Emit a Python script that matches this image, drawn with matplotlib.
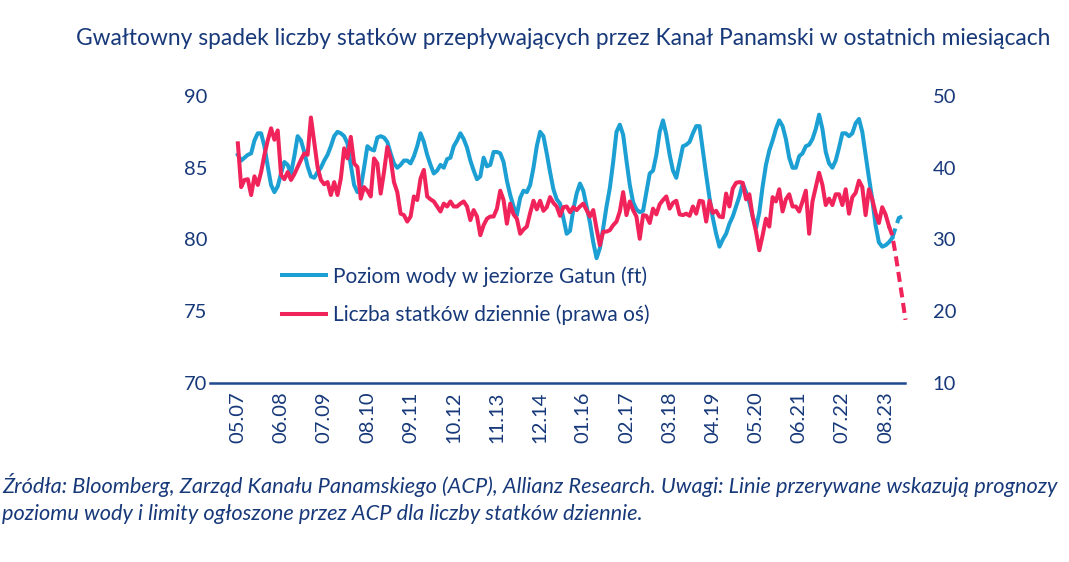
import numpy as np
import matplotlib
matplotlib.use("Agg")
import matplotlib.pyplot as plt

plt.rcParams["font.family"] = ["Lato", "DejaVu Sans"]

TITLE = "Gwałtowny spadek liczby statków przepływających przez Kanał Panamski w ostatnich miesiącach"
NOTE = ("Źródła: Bloomberg, Zarząd Kanału Panamskiego (ACP), Allianz Research. Uwagi: Linie przerywane wskazują prognozy\n"
        "poziomu wody i limity ogłoszone przez ACP dla liczby statków dziennie.")

# x tick labels (every 13 months starting May 2007)
tick_labels = ["05.07", "06.08", "07.09", "08.10", "09.11", "10.12", "11.13", "12.14",
               "01.16", "02.17", "03.18", "04.19", "05.20", "06.21", "07.22", "08.23"]
tick_step = 13

# Gatun lake level (ft), monthly from 05.2007
water_level = [
    85.9, 85.5, 85.7, 85.9, 86.0, 86.9, 87.4, 87.4, 86.5, 85.1,
    83.8, 83.3, 83.7, 84.6, 85.4, 85.2, 84.6, 85.8, 87.2, 86.9,
    86.1, 85.1, 84.4, 84.3, 84.7, 85.0, 85.5, 85.9, 86.5, 87.2,
    87.5, 87.4, 87.2, 86.7, 85.2, 83.8, 83.3, 83.6, 85.0, 86.5,
    86.3, 86.2, 87.1, 87.2, 87.1, 86.8, 86.0, 85.3, 85.0, 85.2,
    85.5, 85.5, 85.3, 85.8, 86.5, 87.4, 86.8, 85.9, 85.2, 84.6,
    84.8, 85.2, 85.0, 85.6, 85.7, 86.5, 86.9, 87.4, 87.0, 86.4,
    85.5, 84.8, 84.2, 84.4, 85.7, 85.1, 85.2, 86.1, 86.1, 86.0,
    85.4, 84.1, 83.1, 82.3, 81.7, 82.9, 83.4, 83.3, 83.8, 85.0,
    86.5, 87.5, 87.2, 86.0, 84.7, 83.5, 82.8, 82.5, 81.5, 80.4,
    80.6, 82.1, 83.2, 83.9, 83.4, 82.3, 81.2, 79.8, 78.7, 79.4,
    80.8, 82.3, 83.6, 85.4, 87.5, 88.0, 87.3, 85.5, 83.8, 82.6,
    82.1, 81.9, 82.0, 83.3, 84.6, 84.8, 85.9, 87.5, 88.3, 87.3,
    85.9, 84.8, 84.3, 85.4, 86.5, 86.6, 86.8, 87.4, 87.9, 87.9,
    86.2, 84.5, 82.9, 81.5, 80.4, 79.5, 80.0, 80.4, 81.1, 81.6,
    82.3, 83.0, 83.9, 83.3, 82.6, 81.6, 80.8, 81.9, 83.7, 85.2,
    86.2, 86.9, 87.7, 88.3, 87.9, 87.0, 85.7, 85.0, 85.0, 85.8,
    86.0, 86.5, 86.6, 87.0, 87.7, 88.7, 87.7, 86.1, 85.3, 85.0,
    85.5, 86.4, 87.4, 87.4, 87.2, 87.4, 88.1, 88.4, 87.5, 85.9,
    84.3, 82.8, 81.0, 79.8, 79.5, 79.6, 79.8, 80.1,
]
water_forecast = [80.1, 80.8, 81.5, 81.6]

# daily transits (right axis), monthly from 05.2007
transits = [
    43.4, 37.3, 38.3, 38.4, 36.2, 38.8, 37.6, 39.4, 41.8, 43.8,
    45.5, 43.9, 45.2, 39.0, 38.4, 39.4, 38.3, 39.1, 40.1, 41.1,
    42.0, 41.8, 47.0, 43.6, 40.1, 38.3, 37.7, 38.0, 36.2, 38.0,
    36.2, 38.5, 42.7, 41.3, 44.3, 40.6, 40.1, 35.7, 37.3, 36.8,
    36.0, 41.3, 40.6, 36.4, 39.4, 42.9, 41.3, 38.0, 36.6, 33.6,
    33.4, 32.5, 33.2, 36.0, 35.5, 38.5, 39.7, 36.0, 35.6, 35.3,
    34.6, 33.9, 35.0, 34.6, 35.3, 34.6, 34.6, 35.0, 35.3, 34.6,
    32.7, 34.1, 33.2, 30.6, 32.0, 32.9, 33.2, 33.2, 34.3, 36.8,
    35.5, 32.2, 35.0, 33.5, 32.9, 30.8, 31.4, 31.8, 33.7, 35.4,
    34.2, 35.4, 34.0, 34.5, 35.9, 35.1, 34.6, 33.3, 34.5, 34.6,
    33.8, 34.5, 34.1, 34.6, 35.0, 34.1, 33.2, 34.1, 31.5, 29.2,
    31.1, 31.1, 31.3, 32.0, 32.5, 33.9, 36.6, 33.4, 35.3, 34.1,
    33.2, 30.1, 33.4, 33.3, 32.3, 34.3, 33.5, 34.9, 35.5, 36.0,
    34.3, 35.1, 35.4, 33.5, 33.4, 33.6, 33.3, 34.6, 33.6, 35.4,
    35.3, 32.5, 35.4, 33.7, 34.0, 33.2, 33.1, 36.4, 34.6, 37.1,
    37.9, 38.0, 37.9, 35.6, 36.3, 33.2, 31.1, 28.5, 30.6, 32.9,
    31.8, 35.9, 35.3, 37.0, 33.9, 35.6, 36.3, 34.6, 34.6, 33.9,
    35.3, 36.8, 30.8, 35.3, 37.3, 39.3, 37.6, 34.8, 35.7, 34.8,
    36.3, 36.3, 34.8, 37.0, 33.6, 35.9, 36.5, 38.2, 37.3, 33.4,
    37.0, 35.6, 33.7, 32.3, 34.5, 33.5, 31.9,
]
transits_forecast = [31.9, 30.6, 28.0, 25.0, 22.0, 18.8]

NAVY = "#17397A"
AXIS = "#1F4A8F"
BLUE = "#1C9FD3"
RED = "#F0245B"

fig = plt.figure(figsize=(10.69, 5.62), dpi=100)
ax = fig.add_axes([0.1964, 0.3185, 0.650, 0.5107])
ax2 = ax.twinx()

x_w = np.arange(len(water_level))
x_wf = np.arange(len(water_forecast)) + len(water_level) - 1
x_t = np.arange(len(transits))
x_tf = np.arange(len(transits_forecast)) + len(transits) - 1

l1, = ax.plot(x_w, water_level, color=BLUE, lw=2.9, solid_joinstyle="round",
              label="Poziom wody w jeziorze Gatun (ft)")
ax.plot(x_wf, water_forecast, color=BLUE, lw=2.9, ls=(0, (2.5, 1.4)))
l2, = ax2.plot(x_t, transits, color=RED, lw=2.9, solid_joinstyle="round",
               label="Liczba statków dziennie (prawa oś)")
ax2.plot(x_tf, transits_forecast, color=RED, lw=2.9, ls=(0, (2.5, 1.4)), clip_on=False)

ax.set_xlim(-8.4, 200.8)
ax.set_ylim(70, 90)
ax2.set_ylim(10, 50)
ax.set_yticks([70, 75, 80, 85, 90])
ax2.set_yticks([10, 20, 30, 40, 50])
ax.set_xticks(np.arange(len(tick_labels)) * tick_step)
ax.set_xticklabels(tick_labels, rotation=90)

for a in (ax, ax2):
    for s in a.spines.values():
        s.set_visible(False)
    a.tick_params(length=0, colors=NAVY, labelsize=14.5)
ax.spines["bottom"].set_visible(True)
ax.spines["bottom"].set_color(AXIS)
ax.spines["bottom"].set_linewidth(1.8)
ax.tick_params(axis="y", pad=2)
ax.tick_params(axis="x", pad=6)
ax2.tick_params(axis="y", pad=20)

fig.legend(handles=[l1, l2], loc="upper left", bbox_to_anchor=(0.254, 0.545),
           frameon=False, fontsize=15, handlelength=2.1, handletextpad=0.35,
           labelspacing=0.85, borderpad=0, labelcolor=NAVY)

fig.text(0.5265, 0.932, TITLE, ha="center", va="center", fontsize=16.4, color=NAVY)
fig.text(0.002, 0.113, NOTE, ha="left", va="center", fontsize=15.7, color=NAVY,
         style="italic", linespacing=1.45)

fig.savefig("out.png", dpi=100)
